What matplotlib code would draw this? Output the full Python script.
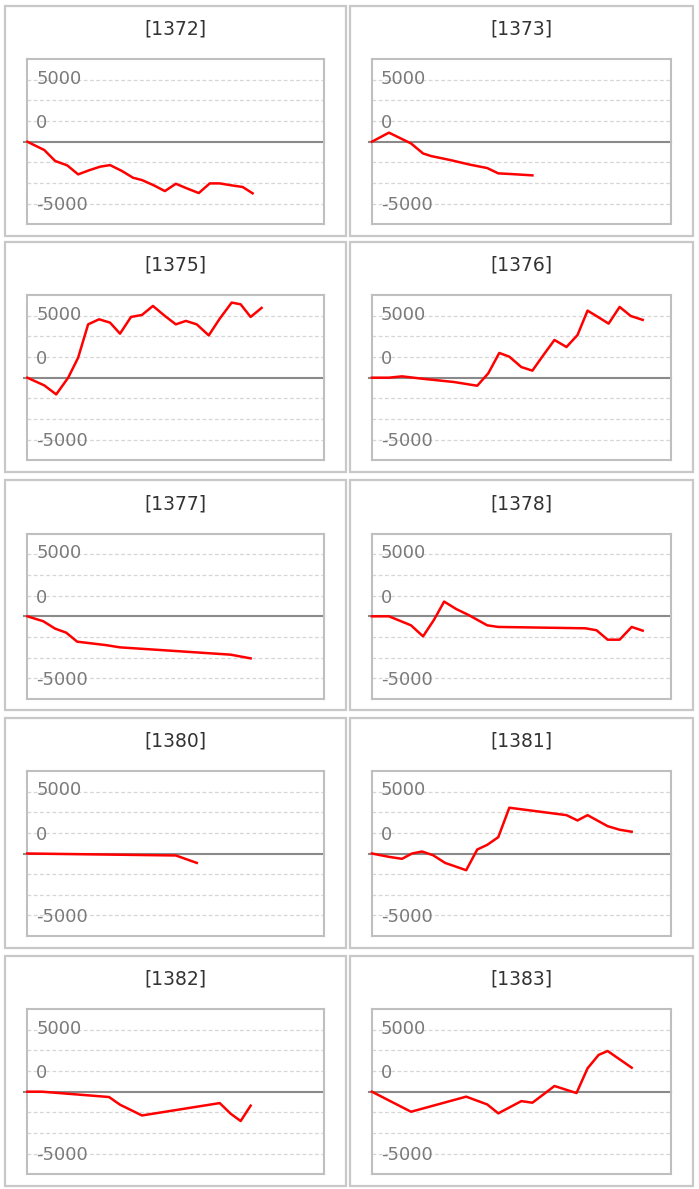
import matplotlib
matplotlib.use("Agg")
import matplotlib.pyplot as plt
from matplotlib.patches import Rectangle

# Panel titles (account / item ids)
titles = ["[1372]", "[1373]", "[1375]", "[1376]", "[1377]",
          "[1378]", "[1380]", "[1381]", "[1382]", "[1383]"]

# Cumulative P/L per panel (x = position along the period, y = amount)
x_1372 = [0, 17, 28, 40, 51, 62, 73, 83, 95, 106, 115, 127, 138, 149, 160, 172, 183, 193, 205, 216, 226]
y_1372 = [0, -670, -1560, -1910, -2640, -2310, -2020, -1890, -2370, -2910, -3100,
          -3530, -3990, -3400, -3770, -4150, -3370, -3370, -3530, -3660, -4170]

x_1373 = [0, 17, 39, 51, 59, 78, 98, 115, 126, 138, 160]
y_1373 = [0, 730, -140, -950, -1160, -1480, -1860, -2130, -2560, -2610, -2720]

x_1375 = [0, 17, 29, 41, 51, 61, 72, 83, 93, 104, 115, 126, 138, 149, 159, 170, 182, 193, 205, 214, 224, 235]
y_1375 = [0, -620, -1350, 0, 1620, 4310, 4720, 4450, 3560, 4910, 5070,
          5800, 4990, 4310, 4590, 4310, 3420, 4770, 6070, 5930, 4910, 5640]

x_1376 = [0, 17, 30, 50, 82, 105, 116, 127, 137, 149, 160, 171, 182, 194, 205, 215, 225, 236, 247, 258, 270]
y_1376 = [0, 0, 110, -80, -350, -650, 350, 2000, 1700, 860, 570,
          1830, 3050, 2480, 3450, 5420, 4930, 4370, 5720, 4990, 4670]

x_1377 = [0, 16, 28, 39, 50, 79, 93, 204, 224]
y_1377 = [0, -400, -1000, -1320, -2050, -2330, -2510, -3100, -3400]

x_1378 = [0, 17, 39, 51, 62, 72, 84, 97, 115, 126, 213, 224, 235, 247, 259, 270]
y_1378 = [0, 0, -730, -1620, -270, 1190, 590, 80, -730, -860, -970, -1130, -1890, -1890, -860, -1160]

x_1380 = [0, 149, 170]
y_1380 = [0, -160, -760]

x_1381 = [0, 17, 30, 40, 50, 61, 73, 94, 105, 115, 126, 137, 194, 205, 215, 224, 235, 247, 259]
y_1381 = [0, -270, -430, 0, 160, -140, -760, -1350, 320, 700, 1320,
          3700, 3100, 2670, 3100, 2700, 2210, 1920, 1760]

x_1382 = [0, 15, 82, 93, 115, 193, 204, 214, 224]
y_1382 = [0, 0, -430, -1050, -1920, -920, -1780, -2370, -1130]

x_1383 = [0, 39, 94, 115, 126, 149, 160, 171, 182, 204, 215, 226, 235, 259]
y_1383 = [0, -1620, -400, -1030, -1750, -760, -890, -220, 460, -110, 1890, 2970, 3290, 1940]

series_x = [x_1372, x_1373, x_1375, x_1376, x_1377, x_1378, x_1380, x_1381, x_1382, x_1383]
series_y = [y_1372, y_1373, y_1375, y_1376, y_1377, y_1378, y_1380, y_1381, y_1382, y_1383]

# y axis labels and grid
tick_labels = ["5000", "0", "-5000"]
label_pos = [5100, 1500, -5150]
grid_vals = [5000, 3333, 1667, -1667, -3333, -5000]

W, H = 699, 1189
COL_LEFT = [5, 349.6]
COL_RIGHT = [346.4, 692.8]
ROW_TOP = [5.7, 241.7, 480.3, 717.5, 955.7]
ROW_H = 230


def draw_panel(fig, idx):
    """Draw one bordered panel with its title and small line chart"""
    row, col = divmod(idx, 2)
    x0, x1 = COL_LEFT[col], COL_RIGHT[col]
    top = ROW_TOP[row]
    bottom = top + ROW_H

    # outer panel border
    fig.add_artist(Rectangle((x0 / W, 1 - bottom / H), (x1 - x0) / W, ROW_H / H,
                             transform=fig.transFigure, fill=False,
                             edgecolor="#c8c8c8", linewidth=1.6))
    fig.text((x0 + x1) / 2 / W, 1 - (top + 23.5) / H, titles[idx],
             ha="center", va="center", fontsize=13.5, color="#333333")

    # inner plot box
    bl, br = x0 + 22.3, x1 - 22
    bt, bb = top + 53.5, bottom - 11.5
    ax = fig.add_axes([bl / W, 1 - bb / H, (br - bl) / W, (bb - bt) / H])
    ax.set_xlim(0, 298)
    ax.set_ylim(-6667, 6667)
    ax.set_xticks([])
    ax.set_yticks([])
    for s in ax.spines.values():
        s.set_color("#bfbfbf")
        s.set_linewidth(1.5)

    for g in grid_vals:
        ax.axhline(g, color="#d6d6d6", linewidth=0.9, linestyle=(0, (3, 2)), zorder=1)
    ax.axhline(0, xmin=-0.01, xmax=1, color="#8a8a8a", linewidth=1.5, clip_on=False, zorder=2)

    for lab, pos in zip(tick_labels, label_pos):
        ax.text(9, pos, lab, ha="left", va="center", fontsize=13, color="#7a7a7a", zorder=3)

    ax.plot(series_x[idx], series_y[idx], color="red", linewidth=1.8, clip_on=False, zorder=4)


def main():
    fig = plt.figure(figsize=(W / 100, H / 100), dpi=100)
    for i in range(len(titles)):
        draw_panel(fig, i)
    fig.savefig("out.png", dpi=100)


if __name__ == "__main__":
    main()
